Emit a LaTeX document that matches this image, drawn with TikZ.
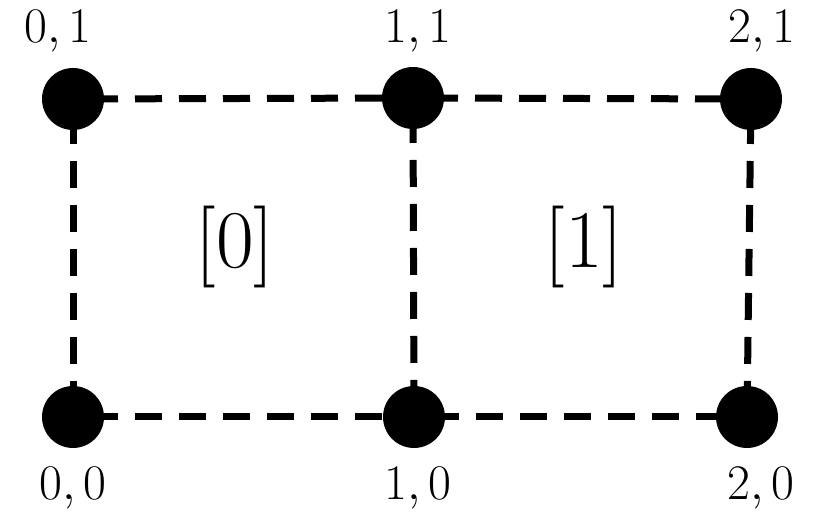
\documentclass[tikz,border=0pt]{standalone}
\usetikzlibrary{backgrounds}
\begin{document}
\begin{tikzpicture}[x=0.5pt,y=-0.5pt,
  vdot/.style={circle,fill=black,inner sep=0pt,minimum size=31pt},
  vlabel/.style={anchor=base,inner sep=0pt,font=\fontsize{24}{28}\selectfont},
  cell/.style={anchor=base,inner sep=0pt,font=\fontsize{41}{48}\selectfont},
  edge/.style={line width=3.5pt,dash pattern=on 13.5pt off 8.5pt,dash phase=13pt}]
\useasboundingbox (0,0) rectangle (816,512);
\node[vdot] (v01) at (73,99) {};
\node[vdot] (v11) at (413,98) {};
\node[vdot] (v21) at (751,99) {};
\node[vdot] (v00) at (73,417) {};
\node[vdot] (v10) at (414,417) {};
\node[vdot] (v20) at (747,417) {};
\node[vlabel] (l01) at (58,43) {$0,1$};
\node[vlabel] (l11) at (418,43) {$1,1$};
\node[vlabel] (l21) at (762,43) {$2,1$};
\node[vlabel] (l00) at (73,500) {$0,0$};
\node[vlabel] (l10) at (418,500) {$1,0$};
\node[vlabel] (l20) at (761,500) {$2,0$};
\node[cell] (c0) at (235,268) {[0]};
\node[cell] (c1) at (584,268) {[1]};
\begin{pgfonlayer}{background}
\draw[edge] (v01.center) -- (v11.center);
\draw[edge] (v11.center) -- (v21.center);
\draw[edge] (v00.center) -- (v10.center);
\draw[edge] (v10.center) -- (v20.center);
\draw[edge] (v01.center) -- (v00.center);
\draw[edge] (v11.center) -- (v10.center);
\draw[edge] (v21.center) -- (v20.center);
\end{pgfonlayer}
\end{tikzpicture}
\end{document}
